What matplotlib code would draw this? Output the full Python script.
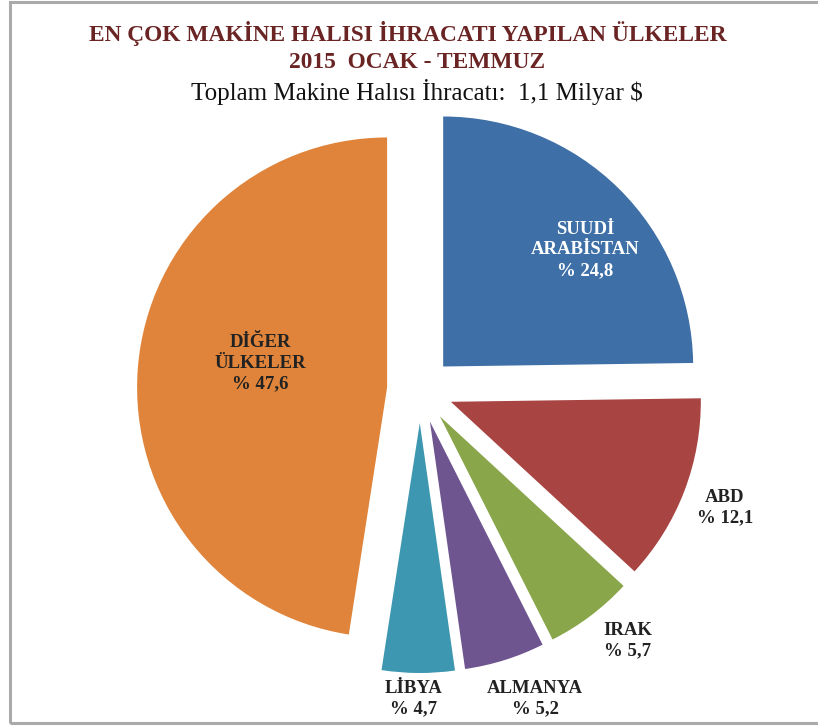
import matplotlib
matplotlib.use("Agg")
import matplotlib.pyplot as plt
from matplotlib.patches import Rectangle

# data
countries = ["SUUDİ\nARABİSTAN", "ABD", "IRAK", "ALMANYA", "LİBYA", "DİĞER\nÜLKELER"]
shares = [24.8, 12.1, 5.7, 5.2, 4.7, 47.6]
share_text = ["% 24,8", "% 12,1", "% 5,7", "% 5,2", "% 4,7", "% 47,6"]

colors = ["#3E6FA6", "#A84442", "#8AA64B", "#6F5590", "#3E97B0", "#DF843A"]
label_colors = ["white", "#222222", "#222222", "#222222", "#222222", "#222222"]
# label positions in pixels (image coords)
label_pos = [(585, 250), (725, 508), (628, 641), (535, 699), (414, 699), (260, 363)]

W, H = 818, 726
fig = plt.figure(figsize=(W / 100, H / 100), dpi=100)
ax = fig.add_axes([0, 0, 1, 1])

R = 250
# explode is in data units here (pixels), not a fraction of the radius
wedges, _ = ax.pie(shares, colors=colors, startangle=90, counterclock=False,
                   radius=R, center=(420, H - 390), explode=[33] * len(shares),
                   wedgeprops=dict(linewidth=0), frame=True)
ax.set_xlim(0, W)
ax.set_ylim(0, H)
ax.axis("off")

for name, pct, col, (x, y) in zip(countries, share_text, label_colors, label_pos):
    ax.text(x, H - y, name + "\n" + pct, ha="center", va="center", color=col,
            fontsize=13.5, fontweight="bold", family="Liberation Serif",
            linespacing=1.25)

# frame
ax.add_patch(Rectangle((10, 3), W, H - 5, fill=False, edgecolor="#AAAAAA", lw=2.2))

title_col = "#6B2424"
ax.text(408, H - 33, "EN ÇOK MAKİNE HALISI İHRACATI YAPILAN ÜLKELER", ha="center",
        va="center", color=title_col, fontsize=16.8, fontweight="bold",
        family="Liberation Serif")
ax.text(417, H - 62, "2015  OCAK - TEMMUZ", ha="center", va="center", color=title_col,
        fontsize=16.8, fontweight="bold", family="Liberation Serif")
ax.text(417, H - 92, "Toplam Makine Halısı İhracatı:  1,1 Milyar $", ha="center",
        va="center", color="#111111", fontsize=18, family="Liberation Serif")

fig.savefig("out.png", dpi=100)
